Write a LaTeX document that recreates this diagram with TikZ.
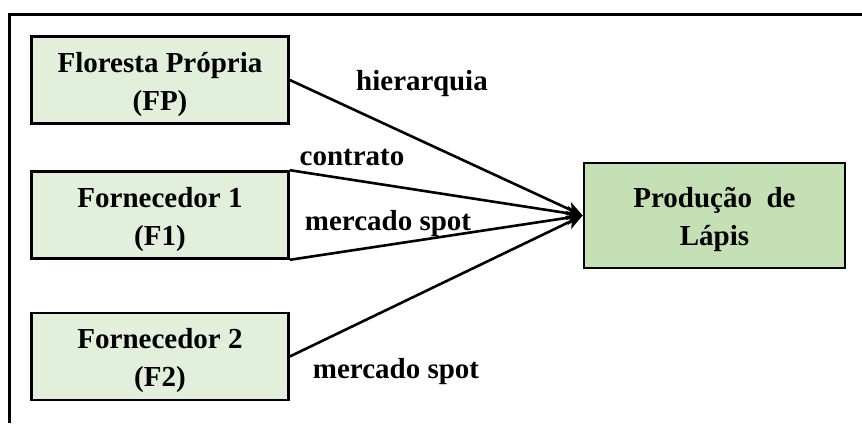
\documentclass[tikz,border=0pt]{standalone}
\usepackage{fontspec}
\setmainfont{Liberation Serif}
\usetikzlibrary{arrows.meta}
\definecolor{lightg}{HTML}{E2EFDA}
\definecolor{darkg}{HTML}{C5E0B4}
\newcommand{\topst}{\rule{0pt}{34pt}}
\newcommand{\botst}{\rule[-12pt]{0pt}{12pt}}
\begin{document}
\begin{tikzpicture}[x=1pt,y=-1pt,
  box/.style={draw=black,line width=2.6pt,fill=lightg,minimum width=257pt,minimum height=87pt,inner sep=0pt,align=center,font=\fontsize{29}{38}\selectfont\bfseries},
  tbox/.style={box,fill=darkg,minimum width=261pt,minimum height=105pt},
  conn/.style={line width=2.6pt,-{Stealth[length=16pt,width=14pt,inset=4pt]}},
  lab/.style={font=\fontsize{29}{30}\selectfont\bfseries,inner sep=0pt,anchor=base}]
\useasboundingbox (0,0) rectangle (862,423);
\draw[line width=3pt] (9.5,423) -- (9.5,14.5) -- (862,14.5);
\node[box] (fp) at (160,80) {\topst Floresta Própria\\(FP)\botst};
\node[box] (f1) at (160,215) {\topst Fornecedor 1\\(F1)\botst};
\node[box] (f2) at (160,356.5) {\topst Fornecedor 2\\(F2)\botst};
\node[tbox] (pl) at (714.5,215.5) {\topst Produção\ \ de\\Lápis\botst};
\coordinate (fpa) at (fp.east);
\coordinate (f1a) at (f1.north east);
\coordinate (f1b) at (f1.south east);
\coordinate (f2a) at (f2.east);
\draw[conn] (fpa) -- (pl.west);
\draw[conn] (f1a) -- (pl.west);
\draw[conn] (f1b) -- (pl.west);
\draw[conn] (f2a) -- (pl.west);
\node[lab] (l1) at (422,90) {hierarquia};
\node[lab] (l2) at (352,165) {contrato};
\node[lab] (l3) at (388,230) {mercado spot};
\node[lab] (l4) at (396,378) {mercado spot};
\end{tikzpicture}
\end{document}
